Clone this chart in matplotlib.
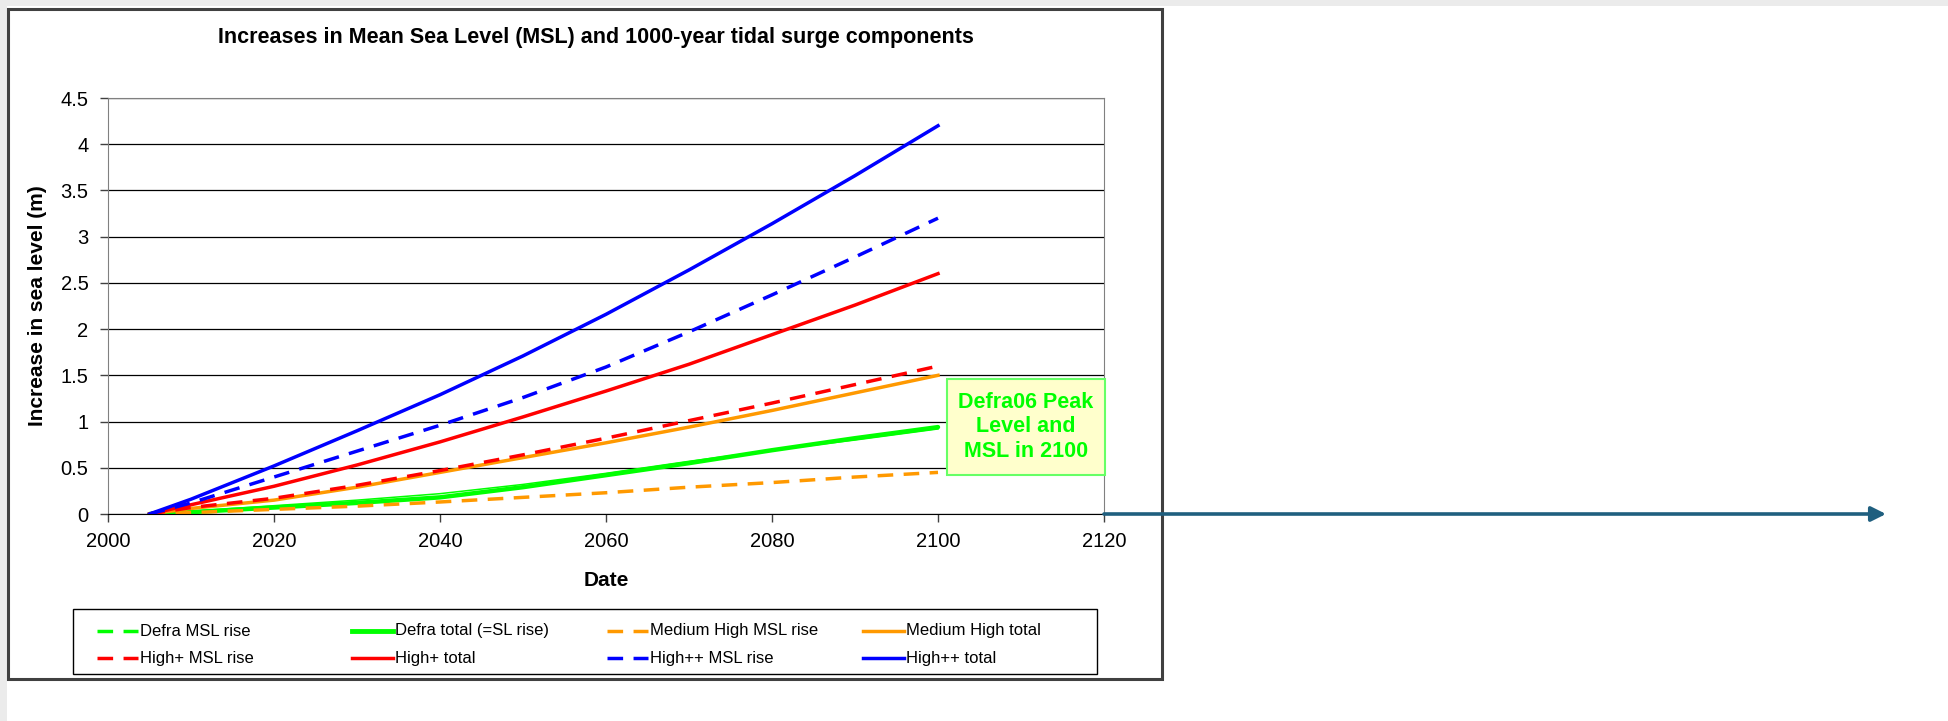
import numpy as np
import matplotlib
matplotlib.use('Agg')
import matplotlib.pyplot as plt
from matplotlib.patches import Rectangle
from matplotlib.lines import Line2D

plt.rcParams['font.family'] = ['Liberation Sans', 'DejaVu Sans']

# --------------------------- Data ---------------------------
years = [2005, 2010, 2020, 2030, 2040, 2050, 2060, 2070, 2080, 2090, 2100]

defra_msl = [0, 0.03, 0.09, 0.15, 0.22, 0.32, 0.44, 0.57, 0.69, 0.80, 0.92]
defra_total = [0, 0.02, 0.07, 0.12, 0.18, 0.29, 0.42, 0.55, 0.69, 0.82, 0.94]
medhigh_msl = [0, 0.015, 0.05, 0.085, 0.13, 0.18, 0.23, 0.29, 0.34, 0.40, 0.45]
medhigh_total = [0, 0.06, 0.15, 0.29, 0.45, 0.61, 0.77, 0.94, 1.12, 1.31, 1.50]
highp_msl = [0, 0.07, 0.17, 0.31, 0.47, 0.64, 0.82, 1.01, 1.20, 1.40, 1.60]
highp_total = [0, 0.10, 0.30, 0.53, 0.78, 1.05, 1.33, 1.62, 1.94, 2.26, 2.60]
highpp_msl = [0, 0.12, 0.40, 0.68, 0.96, 1.26, 1.59, 1.97, 2.37, 2.78, 3.20]
highpp_total = [0, 0.16, 0.52, 0.90, 1.29, 1.71, 2.16, 2.64, 3.14, 3.66, 4.20]

x_ticks = [2000, 2020, 2040, 2060, 2080, 2100, 2120]
y_ticks = [0, 0.5, 1, 1.5, 2, 2.5, 3, 3.5, 4, 4.5]
y_tick_labels = ['0', '0.5', '1', '1.5', '2', '2.5', '3', '3.5', '4', '4.5']

GREEN, ORANGE, RED, BLUE = '#00FF00', '#FF9900', '#FF0000', '#0000FF'
DASH = (0, (4.5, 3))

# legend rows, left to right then top to bottom
legend_labels = ['Defra MSL rise', 'Defra total (=SL rise)', 'Medium High MSL rise', 'Medium High total',
                 'High+ MSL rise', 'High+ total', 'High++ MSL rise', 'High++ total']
legend_styles = [(GREEN, DASH, 2.5), (GREEN, '-', 3.5), (ORANGE, DASH, 2.5), (ORANGE, '-', 2.5),
                 (RED, DASH, 2.5), (RED, '-', 2.5), (BLUE, DASH, 2.5), (BLUE, '-', 2.5)]

# --------------------------- Figure / frame ---------------------------
W, H = 1948, 721
fig = plt.figure(figsize=(W / 100, H / 100), dpi=100, facecolor='white')


def fx(px):
    return px / W


def fy(py):
    return (H - py) / H


# grey page strips along the top and left edges
fig.patches.append(Rectangle((0, fy(6)), 1, 6 / H, transform=fig.transFigure,
                             facecolor='#EBEBEB', edgecolor='none', zorder=0))
fig.patches.append(Rectangle((0, 0), 7 / W, 1, transform=fig.transFigure,
                             facecolor='#EBEBEB', edgecolor='none', zorder=0))
# chart frame
fig.patches.append(Rectangle((fx(8), fy(679)), (1162 - 8) / W, (679 - 9) / H,
                             transform=fig.transFigure, facecolor='white',
                             edgecolor='#404040', linewidth=2.2, zorder=1))

ax = fig.add_axes([fx(108), fy(514), (1104 - 108) / W, (514 - 98) / H])
ax.set_zorder(2)

# --------------------------- Series ---------------------------
ax.plot(years, defra_total, color=GREEN, lw=3.2, solid_capstyle='round')
ax.plot(years, defra_msl, color=GREEN, lw=1.1)
ax.plot(years, medhigh_msl, color=ORANGE, lw=2.5, linestyle=DASH)
ax.plot(years, medhigh_total, color=ORANGE, lw=2.5)
ax.plot(years, highp_msl, color=RED, lw=2.5, linestyle=DASH)
ax.plot(years, highp_total, color=RED, lw=2.5)
ax.plot(years, highpp_msl, color=BLUE, lw=2.5, linestyle=DASH)
ax.plot(years, highpp_total, color=BLUE, lw=2.5)

# --------------------------- Axes styling ---------------------------
ax.set_xlim(2000, 2120)
ax.set_ylim(0, 4.5)
ax.set_xticks(x_ticks)
ax.set_yticks(y_ticks)
ax.set_yticklabels(y_tick_labels)
ax.yaxis.grid(True, color='black', lw=0.9)
ax.set_axisbelow(True)
for side in ['left', 'right', 'top']:
    ax.spines[side].set_color('#808080')
ax.spines['bottom'].set_color('black')
ax.tick_params(axis='both', direction='out', length=6, width=1, color='#404040',
               labelsize=14.5, labelcolor='black')
ax.tick_params(axis='y', pad=8)
ax.tick_params(axis='x', pad=7)

fig.text(fx(596), fy(37), 'Increases in Mean Sea Level (MSL) and 1000-year tidal surge components',
         ha='center', va='center', fontsize=15.5, fontweight='bold')
ax.set_xlabel('Date', fontsize=15, fontweight='bold')
ax.xaxis.set_label_coords(0.5, -(581 - 514) / 416)
ax.xaxis.label.set_va('center')
ax.set_ylabel('Increase in sea level (m)', fontsize=15, fontweight='bold')
ax.yaxis.set_label_coords((38 - 108) / 996, 0.5)
ax.yaxis.label.set_va('center')

# --------------------------- Annotation box ---------------------------
fig.patches.append(Rectangle((fx(947), fy(475)), (1105 - 947) / W, (475 - 379) / H,
                             transform=fig.transFigure, facecolor='#FFFFCC',
                             edgecolor='#66FF66', linewidth=1.5, zorder=5))
fig.text(fx(1026), fy(427), 'Defra06 Peak\nLevel and\nMSL in 2100', ha='center', va='center',
         color=GREEN, fontsize=15.5, fontweight='bold', linespacing=1.2, zorder=6)

# --------------------------- Arrow along the zero line ---------------------------
ax.annotate('', xy=(fx(1886), fy(514)), xycoords='figure fraction',
            xytext=(2120, 0), textcoords='data',
            arrowprops=dict(arrowstyle='-|>', color='#1F5F7F', lw=2.6, mutation_scale=22,
                            shrinkA=0, shrinkB=0),
            annotation_clip=False)

# --------------------------- Legend ---------------------------
fig.patches.append(Rectangle((fx(73), fy(674)), (1097 - 73) / W, (674 - 609) / H,
                             transform=fig.transFigure, facecolor='white',
                             edgecolor='black', linewidth=1.0, zorder=3))
col_x = [97, 352, 607, 863]
row_y = [631, 658]
for i, (label, (color, ls, lw)) in enumerate(zip(legend_labels, legend_styles)):
    x0 = col_x[i % 4]
    y0 = row_y[i // 4]
    fig.add_artist(Line2D([fx(x0), fx(x0 + 41)], [fy(y0), fy(y0)], transform=fig.transFigure,
                          color=color, linestyle=ls, lw=lw, zorder=4))
    fig.text(fx(x0 + 43), fy(y0), label, ha='left', va='center', fontsize=12, zorder=4)

fig.savefig('out.png', dpi=100, facecolor='white')
